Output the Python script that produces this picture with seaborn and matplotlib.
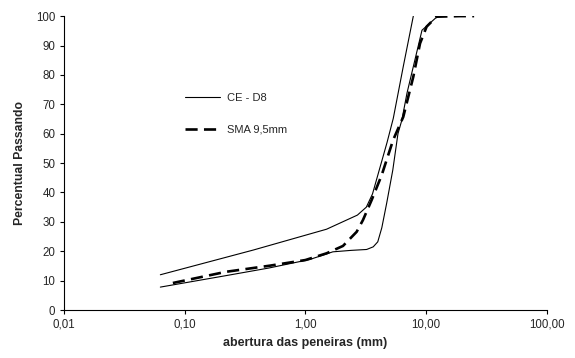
import numpy as np
import pandas as pd
import matplotlib
matplotlib.use("Agg")
import matplotlib.pyplot as plt
import seaborn as sns
from matplotlib.lines import Line2D

# faixa CE - D8 (limite superior e inferior)
ce_sup_x = [0.063, 0.37, 1.5, 2.7, 3.2, 3.6, 4.75, 5.35, 6.47, 7.84]
ce_sup_y = [12.0, 20.4, 27.5, 32.3, 35.0, 39.5, 57.0, 65.2, 82.8, 100.0]

ce_inf_x = [0.063, 0.22, 0.5, 1.09, 1.69, 2.4, 3.22, 3.65, 3.98, 4.3, 4.72, 5.3, 5.85, 6.3, 6.95, 9.25, 12.5]
ce_inf_y = [7.8, 11.7, 14.3, 17.2, 19.8, 20.3, 20.6, 21.5, 23.2, 28.0, 36.4, 47.6, 60.0, 64.6, 73.8, 95.2, 100.0]

# SMA 9,5mm
sma_x = [0.08, 0.22, 0.51, 1.0, 1.5, 2.05, 2.66, 3.0, 3.54, 4.29, 5.33, 6.47, 7.84, 8.91, 10.1, 12.2, 19.0, 25.0]
sma_y = [9.2, 13.0, 15.1, 17.0, 19.3, 21.8, 26.6, 30.6, 37.4, 45.9, 57.8, 65.7, 79.4, 90.7, 96.4, 99.8, 100.0, 100.0]

xticks = [0.01, 0.1, 1, 10, 100]
xtick_labels = ["0,01", "0,10", "1,00", "10,00", "100,00"]
yticks = list(range(0, 101, 10))

sns.set_style("ticks")
plt.rcParams['font.family'] = ['Liberation Sans', 'DejaVu Sans']

fig, ax = plt.subplots(figsize=(5.75, 3.58), dpi=100)
fig.subplots_adjust(left=0.111, right=0.951, top=0.955, bottom=0.134)

sup = pd.DataFrame({"x": ce_sup_x, "y": ce_sup_y})
inf = pd.DataFrame({"x": ce_inf_x, "y": ce_inf_y})
sma = pd.DataFrame({"x": sma_x, "y": sma_y})

dash = (0, (4.6, 2.4))
sns.lineplot(data=sup, x="x", y="y", ax=ax, color="black", lw=0.8, estimator=None, sort=False)
sns.lineplot(data=inf, x="x", y="y", ax=ax, color="black", lw=0.8, estimator=None, sort=False)
sns.lineplot(data=sma, x="x", y="y", ax=ax, color="black", lw=1.9, estimator=None, sort=False,
             dashes=False, linestyle=dash)

ax.set_xscale("log")
ax.set_xlim(0.01, 100)
ax.set_ylim(0, 100)
ax.set_xticks(xticks)
ax.set_xticklabels(xtick_labels)
ax.minorticks_off()
ax.set_yticks(yticks)
ax.tick_params(axis='both', labelsize=8.3, length=3, width=0.8, color="black", pad=3)
sns.despine(ax=ax)
for s in ["left", "bottom"]:
    ax.spines[s].set_linewidth(0.8)
    ax.spines[s].set_color("black")

ax.set_xlabel("abertura das peneiras (mm)", fontsize=9, fontweight="bold", labelpad=5)
ax.set_ylabel("Percentual Passando", fontsize=8.8, fontweight="bold", labelpad=7)

handles = [Line2D([], [], color="black", lw=0.8),
           Line2D([], [], color="black", lw=1.9, linestyle=dash)]
ax.legend(handles, ["CE - D8", "SMA 9,5mm"], loc="upper left", bbox_to_anchor=(0.23, 0.772),
          frameon=False, fontsize=8, handlelength=3.2, handletextpad=0.6, labelspacing=1.95)

fig.savefig("out.png", dpi=100)
